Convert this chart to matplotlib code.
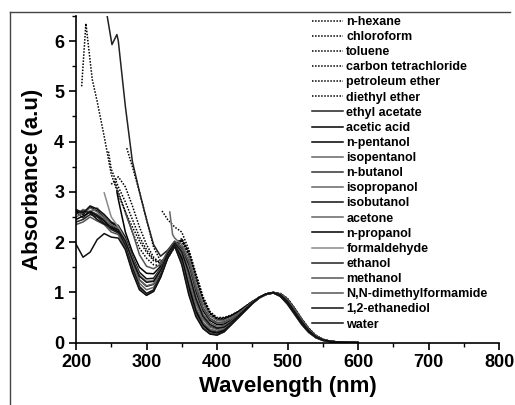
import matplotlib
matplotlib.use('Agg')
import matplotlib.pyplot as plt
from matplotlib.ticker import MultipleLocator
from matplotlib.lines import Line2D

plt.rcParams['font.family'] = ['Liberation Sans', 'DejaVu Sans']
plt.rcParams['font.weight'] = 'bold'

N = None
# common wavelength grid (nm) for the read-off absorbance values
wavelength = list(range(200, 601, 10))

# dotted solvents
n_hexane_head = ([208, 214, 223], [5.1, 6.35, 5.24])
n_hexane = [N, N, N, 4.8, 4.1, 3.35, 2.95, 2.6, 2.3, 2.02, 1.8, 1.63, 1.58, 1.72, 1.93, 2.03, 1.78, 1.3, 0.85, 0.58,
            0.47, 0.48, 0.53, 0.61, 0.71, 0.81, 0.9, 0.96, 0.99, 0.97, 0.86, 0.67, 0.46, 0.27, 0.14, 0.06, 0.03, 0.015, 0.007, 0.003, 0.0]
chloroform_head = ([246], [3.8])
chloroform = [N] * 5 + [3.45, 3.1, 2.8, 2.45, 2.1, 1.85, 1.66, 1.6, 1.74, 1.96, 2.07, 1.82, 1.36, 0.9, 0.6] + \
             [0.48, 0.49, 0.54, 0.62, 0.72, 0.82, 0.9, 0.96, 0.99, 0.97, 0.87, 0.68, 0.47, 0.28, 0.14, 0.065, 0.03, 0.015, 0.007, 0.003, 0.0]
toluene_head = ([322, 330], [2.62, 2.45])
toluene = [N] * 14 + [2.3, 2.2, 1.85, 1.38, 0.92, 0.62] + \
          [0.5, 0.5, 0.55, 0.62, 0.72, 0.82, 0.9, 0.96, 0.99, 0.98, 0.88, 0.69, 0.48, 0.29, 0.15, 0.07, 0.03, 0.015, 0.007, 0.003, 0.0]
ccl4_head = ([272], [3.87])
carbon_tetrachloride = [N] * 8 + [3.5, 3.0, 2.45, 1.9, 1.62, 1.7, 1.93, 2.06, 1.8, 1.32, 0.87, 0.59] + \
                       [0.48, 0.48, 0.53, 0.61, 0.71, 0.81, 0.9, 0.96, 0.99, 0.97, 0.87, 0.68, 0.47, 0.28, 0.14, 0.065, 0.03, 0.015, 0.007, 0.003, 0.0]
petroleum_ether = [N] * 5 + [3.15, 3.3, 3.1, 2.72, 2.3, 1.95, 1.7, 1.57, 1.7, 1.92, 2.04, 1.75, 1.25, 0.82, 0.57] + \
                  [0.47, 0.47, 0.53, 0.61, 0.71, 0.81, 0.9, 0.96, 0.99, 0.97, 0.86, 0.67, 0.46, 0.27, 0.14, 0.06, 0.03, 0.015, 0.007, 0.003, 0.0]
diethyl_ether_head = ([255], [3.2])
diethyl_ether = [N] * 6 + [3.0, 2.6, 2.2, 1.88, 1.68, 1.55, 1.53, 1.68, 1.9, 2.02, 1.72, 1.2, 0.78, 0.55] + \
                [0.45, 0.46, 0.52, 0.6, 0.7, 0.8, 0.89, 0.96, 0.99, 0.97, 0.86, 0.67, 0.46, 0.27, 0.14, 0.06, 0.03, 0.015, 0.007, 0.003, 0.0]

# solid solvents
ethyl_acetate_head = ([243, 251, 258], [6.6, 5.93, 6.13])
ethyl_acetate = [N] * 6 + [6.0, 4.7, 3.6, 3.0, 2.45, 1.95, 1.72, 1.84, 2.02, 1.9, 1.62, 1.1, 0.7, 0.48] + \
                [0.4, 0.41, 0.47, 0.57, 0.68, 0.8, 0.9, 0.96, 0.99, 0.96, 0.85, 0.65, 0.44, 0.26, 0.13, 0.06, 0.028, 0.013, 0.006, 0.003, 0.0]
acetic_acid_head = ([258], [3.0])
acetic_acid = [N] * 6 + [2.85, 2.2, 1.8, 1.5, 1.38, 1.37, 1.52, 1.8, 2.0, 1.88, 1.55, 1.02, 0.64, 0.44] + \
              [0.36, 0.37, 0.45, 0.56, 0.68, 0.8, 0.9, 0.97, 1.0, 0.96, 0.84, 0.64, 0.43, 0.25, 0.13, 0.06, 0.027, 0.013, 0.006, 0.003, 0.0]
n_pentanol = [2.62, 2.55, 2.7, 2.62, 2.5, 2.38, 2.3, 2.05, 1.62, 1.25, 1.12, 1.16, 1.4, 1.75, 1.97, 1.8, 1.3, 0.8, 0.48, 0.32,
              0.27, 0.3, 0.4, 0.52, 0.65, 0.78, 0.89, 0.97, 1.0, 0.95, 0.82, 0.62, 0.42, 0.24, 0.12, 0.055, 0.025, 0.012, 0.006, 0.003, 0.0]
isopentanol = [2.55, 2.65, 2.6, 2.68, 2.52, 2.35, 2.28, 2.0, 1.55, 1.18, 1.05, 1.1, 1.37, 1.73, 1.96, 1.75, 1.2, 0.7, 0.41, 0.27,
               0.23, 0.27, 0.38, 0.51, 0.65, 0.78, 0.9, 0.97, 0.99, 0.94, 0.8, 0.6, 0.4, 0.23, 0.11, 0.05, 0.022, 0.01, 0.005, 0.002, 0.0]
n_butanol = [2.6, 2.48, 2.62, 2.55, 2.45, 2.32, 2.25, 1.95, 1.5, 1.12, 0.98, 1.05, 1.34, 1.71, 1.95, 1.7, 1.14, 0.65, 0.37, 0.24,
             0.21, 0.25, 0.37, 0.5, 0.64, 0.78, 0.9, 0.97, 0.99, 0.93, 0.79, 0.59, 0.39, 0.22, 0.11, 0.05, 0.02, 0.01, 0.005, 0.002, 0.0]
isopropanol = [2.5, 2.58, 2.68, 2.6, 2.48, 2.3, 2.22, 1.98, 1.58, 1.24, 1.13, 1.17, 1.42, 1.76, 1.97, 1.79, 1.3, 0.79, 0.47, 0.31,
               0.26, 0.29, 0.4, 0.52, 0.65, 0.78, 0.89, 0.96, 0.99, 0.95, 0.83, 0.63, 0.43, 0.25, 0.13, 0.06, 0.027, 0.013, 0.006, 0.003, 0.0]
isobutanol = [2.65, 2.58, 2.72, 2.66, 2.55, 2.4, 2.33, 2.1, 1.72, 1.4, 1.27, 1.28, 1.48, 1.79, 1.99, 1.85, 1.45, 0.93, 0.57, 0.39,
              0.32, 0.34, 0.43, 0.55, 0.67, 0.8, 0.9, 0.97, 1.0, 0.96, 0.84, 0.64, 0.44, 0.26, 0.13, 0.06, 0.028, 0.013, 0.006, 0.003, 0.0]
acetone_head = ([333, 337], [2.6, 2.15])
acetone = [N] * 14 + [2.08, 1.95, 1.7, 1.2, 0.78, 0.53] + \
          [0.44, 0.44, 0.5, 0.58, 0.69, 0.8, 0.9, 0.96, 0.99, 0.97, 0.86, 0.67, 0.46, 0.27, 0.14, 0.06, 0.03, 0.014, 0.007, 0.003, 0.0]
n_propanol = [2.45, 2.52, 2.6, 2.52, 2.42, 2.28, 2.2, 1.92, 1.47, 1.1, 0.97, 1.04, 1.33, 1.7, 1.94, 1.68, 1.1, 0.62, 0.35, 0.22,
              0.19, 0.24, 0.36, 0.5, 0.64, 0.78, 0.9, 0.97, 0.99, 0.93, 0.78, 0.58, 0.38, 0.22, 0.1, 0.045, 0.02, 0.01, 0.005, 0.002, 0.0]
formaldehyde = [N] * 4 + [2.98, 2.5, 2.3, 2.05, 1.68, 1.35, 1.22, 1.24, 1.45, 1.78, 1.98, 1.83, 1.45, 0.92, 0.56, 0.38] + \
               [0.31, 0.33, 0.42, 0.54, 0.67, 0.79, 0.9, 0.97, 1.0, 0.95, 0.83, 0.63, 0.43, 0.25, 0.12, 0.055, 0.025, 0.012, 0.006, 0.003, 0.0]
ethanol = [2.4, 2.45, 2.55, 2.5, 2.38, 2.25, 2.18, 1.9, 1.44, 1.08, 0.95, 1.03, 1.32, 1.69, 1.93, 1.62, 1.02, 0.56, 0.31, 0.19,
           0.16, 0.22, 0.36, 0.5, 0.64, 0.78, 0.9, 0.97, 0.99, 0.92, 0.77, 0.57, 0.37, 0.21, 0.1, 0.045, 0.02, 0.01, 0.005, 0.002, 0.0]
methanol = [2.35, 2.4, 2.5, 2.42, 2.35, 2.2, 2.15, 1.87, 1.42, 1.07, 0.95, 1.02, 1.3, 1.68, 1.91, 1.58, 0.98, 0.54, 0.3, 0.18,
            0.15, 0.21, 0.35, 0.49, 0.63, 0.77, 0.89, 0.97, 0.99, 0.92, 0.76, 0.56, 0.36, 0.2, 0.1, 0.045, 0.02, 0.01, 0.005, 0.002, 0.0]
dmf = [N] * 7 + [2.58, 2.2, 1.75, 1.52, 1.47, 1.56, 1.82, 2.01, 1.9, 1.6, 1.08, 0.68, 0.47] + \
      [0.39, 0.4, 0.47, 0.57, 0.69, 0.8, 0.9, 0.96, 0.99, 0.96, 0.85, 0.66, 0.45, 0.26, 0.13, 0.06, 0.028, 0.013, 0.006, 0.003, 0.0]
ethanediol = [2.58, 2.62, 2.58, 2.45, 2.36, 2.3, 2.24, 2.02, 1.65, 1.32, 1.2, 1.22, 1.44, 1.77, 1.98, 1.81, 1.4, 0.88, 0.53, 0.36,
              0.29, 0.31, 0.41, 0.53, 0.66, 0.79, 0.9, 0.97, 1.0, 0.95, 0.82, 0.62, 0.42, 0.24, 0.12, 0.055, 0.025, 0.012, 0.006, 0.003, 0.0]
water = [1.96, 1.7, 1.8, 2.05, 2.17, 2.1, 2.08, 1.85, 1.4, 1.05, 0.94, 1.02, 1.3, 1.68, 1.92, 1.55, 0.95, 0.52, 0.28, 0.17,
         0.15, 0.22, 0.36, 0.5, 0.64, 0.78, 0.9, 0.97, 0.99, 0.92, 0.77, 0.57, 0.37, 0.21, 0.11, 0.05, 0.025, 0.012, 0.006, 0.003, 0.0]

DOT = (0, (1, 1))
# (label, values, head points, colour, linestyle)
series = [
    ('n-hexane', n_hexane, n_hexane_head, 'black', DOT),
    ('chloroform', chloroform, chloroform_head, 'black', DOT),
    ('toluene', toluene, toluene_head, 'black', DOT),
    ('carbon tetrachloride', carbon_tetrachloride, ccl4_head, 'black', DOT),
    ('petroleum ether', petroleum_ether, None, 'black', DOT),
    ('diethyl ether', diethyl_ether, diethyl_ether_head, 'black', DOT),
    ('ethyl acetate', ethyl_acetate, ethyl_acetate_head, '#222222', '-'),
    ('acetic acid', acetic_acid, acetic_acid_head, 'black', '-'),
    ('n-pentanol', n_pentanol, None, 'black', '-'),
    ('isopentanol', isopentanol, None, '#666666', '-'),
    ('n-butanol', n_butanol, None, '#333333', '-'),
    ('isopropanol', isopropanol, None, '#666666', '-'),
    ('isobutanol', isobutanol, None, '#111111', '-'),
    ('acetone', acetone, acetone_head, '#666666', '-'),
    ('n-propanol', n_propanol, None, 'black', '-'),
    ('formaldehyde', formaldehyde, None, '#8a8a8a', '-'),
    ('ethanol', ethanol, None, '#222222', '-'),
    ('methanol', methanol, None, '#555555', '-'),
    ('N,N-dimethylformamide', dmf, None, '#555555', '-'),
    ('1,2-ethanediol', ethanediol, None, '#111111', '-'),
    ('water', water, None, '#111111', '-'),
]

fig = plt.figure(figsize=(5.15, 4.05), dpi=100)
ax = fig.add_axes([0.1476, 0.154, 0.8214, 0.8066])

for label, vals, head, color, ls in series:
    xs, ys = [], []
    last = 0
    if head is not None:
        xs += head[0]
        ys += head[1]
        last = head[0][-1]
    for w, v in zip(wavelength, vals):
        if v is not None and w > last:
            xs.append(w)
            ys.append(v)
    lw = 1.1 if ls == DOT else 1.1
    ax.plot(xs, ys, color=color, linestyle=ls, linewidth=lw, label=label)

ax.set_xlim(200, 800)
ax.set_ylim(0, 6.5)
ax.xaxis.set_major_locator(MultipleLocator(100))
ax.xaxis.set_minor_locator(MultipleLocator(50))
ax.yaxis.set_major_locator(MultipleLocator(1))
ax.yaxis.set_minor_locator(MultipleLocator(0.5))
ax.tick_params(which='major', direction='out', length=5, width=1.2, labelsize=13)
ax.tick_params(which='minor', direction='out', length=3, width=1.0)
for t in ax.get_xticklabels() + ax.get_yticklabels():
    t.set_fontweight('bold')

for side in ['top', 'right']:
    ax.spines[side].set_visible(False)
for side in ['left', 'bottom']:
    ax.spines[side].set_linewidth(1.2)

ax.set_xlabel('Wavelength (nm)', fontsize=16, fontweight='bold', labelpad=3)
ax.set_ylabel('Absorbance (a.u)', fontsize=16, fontweight='bold', labelpad=8)

leg = ax.legend(loc='upper left', bbox_to_anchor=(312 / 515, 1 - 16 / 405),
                bbox_transform=fig.transFigure, frameon=False, fontsize=9,
                handlelength=2.5, handletextpad=0.25, labelspacing=0.25,
                borderpad=0, borderaxespad=0)
for t in leg.get_texts():
    t.set_fontweight('bold')

# scanned page frame (top and left edges)
fig.add_artist(Line2D([10 / 515, 510 / 515], [1 - 12 / 405, 1 - 12 / 405],
                      transform=fig.transFigure, color='#444444', linewidth=1.0))
fig.add_artist(Line2D([10 / 515, 10 / 515], [0, 1 - 12 / 405],
                      transform=fig.transFigure, color='#444444', linewidth=1.0))

fig.savefig('out.png', dpi=100)
